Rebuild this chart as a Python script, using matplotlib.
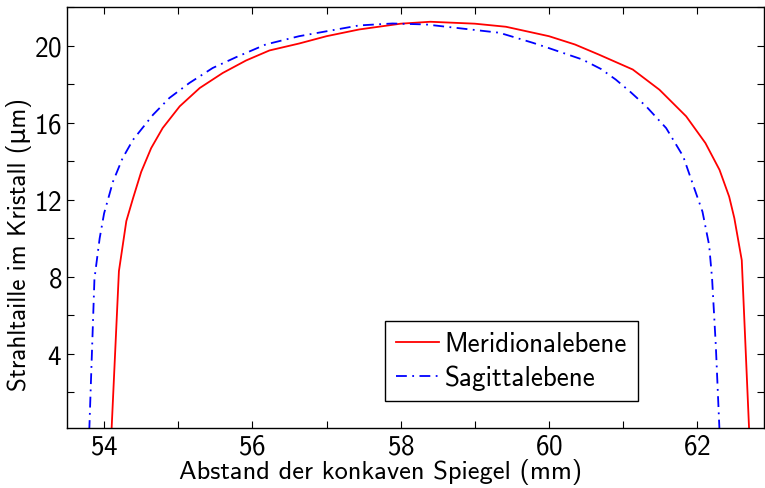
import matplotlib
matplotlib.use("Agg")
import matplotlib.pyplot as plt
from matplotlib.ticker import MultipleLocator

# Data
mer_x = [54.10, 54.20, 54.30, 54.39, 54.50, 54.635, 54.79, 55.02, 55.29, 55.60,
         55.915, 56.23, 56.63, 57.00, 57.44, 58.00, 58.40, 59.00, 59.42, 60.00,
         60.35, 60.67, 61.13, 61.49, 61.85, 62.11, 62.30, 62.43, 62.50, 62.60, 62.70]
mer_y = [0.0, 8.3, 10.9, 12.08, 13.45, 14.69, 15.73, 16.86, 17.81, 18.59,
         19.24, 19.76, 20.12, 20.5, 20.85, 21.15, 21.25, 21.15, 20.99, 20.5,
         20.07, 19.55, 18.77, 17.72, 16.34, 14.95, 13.56, 12.17, 11.05, 8.87, 0.0]

sag_x = [53.80, 53.87, 53.94, 54.00, 54.12, 54.25, 54.39, 54.66, 54.88, 55.15,
         55.465, 55.78, 56.18, 56.63, 57.44, 57.89, 58.34, 59.33, 59.78, 60.00,
         60.45, 60.70, 60.90, 61.10, 61.31, 61.58, 61.81, 61.96, 62.07, 62.16,
         62.20, 62.25, 62.30]
sag_y = [0.0, 7.9, 10.0, 11.3, 12.95, 14.17, 15.12, 16.42, 17.29, 18.07,
         18.85, 19.41, 20.07, 20.5, 21.06, 21.16, 21.11, 20.68, 20.16, 19.88,
         19.29, 18.8, 18.25, 17.6, 16.86, 15.73, 14.26, 12.6, 11.39, 9.65,
         7.9, 4.44, 0.0]

labels = ["Meridionalebene", "Sagittalebene"]
xlabel = "Abstand der konkaven Spiegel (mm)"
ylabel = "Strahltaille im Kristall (\u03bcm)"

fam = ["cmss10", "DejaVu Sans"]
plt.rcParams["font.family"] = fam
plt.rcParams["axes.formatter.use_mathtext"] = True

fs = 19.5
fig = plt.figure(figsize=(7.65, 4.89), dpi=100)
ax = fig.add_axes([0.0876, 0.1221, 0.9111, 0.8609])

ax.plot(mer_x, mer_y, color="red", lw=1.3, label=labels[0])
ax.plot(sag_x, sag_y, color="blue", lw=1.3, linestyle=(0, (6, 3, 1, 3)), label=labels[1])

ax.set_xlim(53.5, 62.9)
ax.set_ylim(0.14, 22.0)
ax.xaxis.set_major_locator(MultipleLocator(2))
ax.xaxis.set_minor_locator(MultipleLocator(1))
ax.set_yticks([4, 8, 12, 16, 20])
ax.yaxis.set_minor_locator(MultipleLocator(2))
ax.tick_params(which="both", direction="in", top=True, right=True, length=5, width=0.8,
               labelsize=fs)
for s in ax.spines.values():
    s.set_linewidth(1.0)

ax.set_xlabel(xlabel, fontsize=19)
ax.set_ylabel(ylabel, fontsize=18)
ax.xaxis.set_label_coords(0.45, -0.07)
ax.yaxis.set_label_coords(-0.05, 0.438)

leg = ax.legend(loc="lower left", bbox_to_anchor=(0.456, 0.065), borderaxespad=0,
                fancybox=False, edgecolor="black", framealpha=1, fontsize=fs,
                handlelength=1.6, borderpad=0.4, labelspacing=0.3, handletextpad=0.2)
leg.get_frame().set_linewidth(1.0)

fig.savefig("out.png", dpi=100)
